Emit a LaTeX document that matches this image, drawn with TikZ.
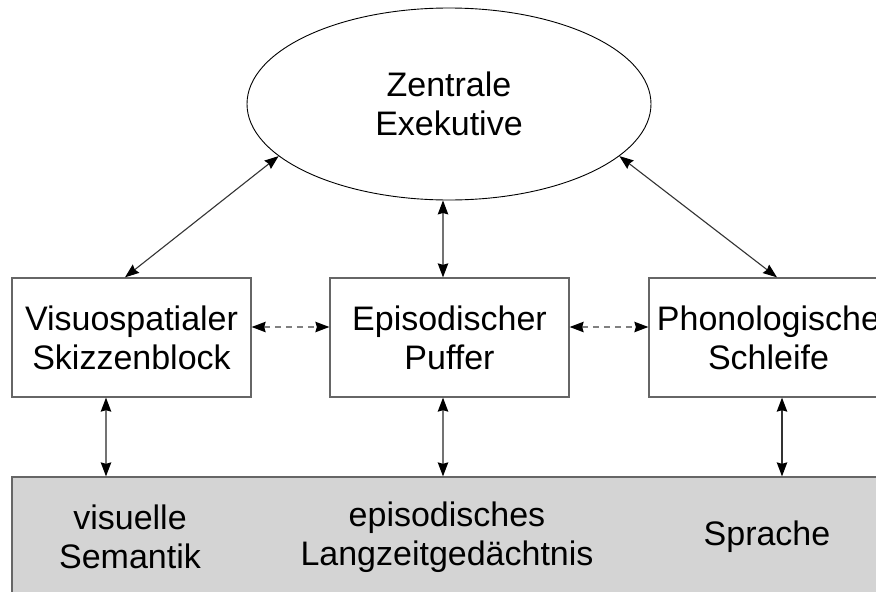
\documentclass[tikz,border=0pt]{standalone}
\usepackage{fontspec}
\setmainfont{Liberation Sans}
\usetikzlibrary{shapes.geometric,arrows.meta}
\begin{document}
\begin{tikzpicture}[x=1pt,y=-1pt,
  txt/.style={font=\fontsize{34}{39}\selectfont, align=center},
  modbox/.style={draw=black!60, line width=1.3pt, fill=white, minimum width=239pt, minimum height=119pt, inner sep=0pt},
  tip/.style={Stealth[length=14pt,width=10.5pt,inset=1.5pt,color=black]},
  link/.style={draw=black!55, line width=1.1pt, {Stealth[length=14pt,width=10.5pt,inset=1.5pt,color=black]}-{Stealth[length=14pt,width=10.5pt,inset=1.5pt,color=black]}},
  dlink/.style={link, draw=black!50, dash pattern=on 6pt off 5pt}]
  \useasboundingbox (0,0) rectangle (876,592);
  \clip (0,0) rectangle (876,592);
  \fill[white] (0,0) rectangle (876,592);

  % long-term memory layer
  \node[draw=black!60, line width=1.3pt, fill=black!17, minimum width=888pt, minimum height=150pt, inner sep=0pt] (mem) at (456,552) {};
  \node[txt] (vs) at (130,537) {visuelle\\Semantik};
  \node[txt] (ep) at (447,537) {episodisches\\Langzeitgedächtnis};
  \node[txt] (sp) at (767,537) {Sprache};

  % central executive
  \node[draw=black, line width=0.9pt, ellipse, minimum width=404pt, minimum height=192pt, inner sep=0pt, txt] (ce) at (449,104) {Zentrale\\Exekutive};

  % slave systems
  \node[modbox, txt] (vis) at (131.5,337.5) {Visuospatialer\\Skizzenblock};
  \node[modbox, txt] (epb) at (449.5,337.5) {Episodischer\\Puffer};
  \node[modbox, txt] (pho) at (768.5,337.5) {Phonologische\\Schleife};

  % helper positions
  \coordinate (ly) at (0,327);
  \coordinate (lx) at (106,0);
  \coordinate (cx) at (443,0);
  \coordinate (rx) at (782,0);
  \coordinate (dl) at (125,0);
  \coordinate (dr) at (777,0);

  % executive links
  \draw[link, draw=black!80] (vis.north -| dl) -- (ce.197);
  \draw[link, draw=black!80] (pho.north -| dr) -- (ce.343);
  \draw[link] (ce.south -| cx) -- (epb.north -| cx);

  % links between slave systems
  \draw[dlink] (vis.east |- ly) -- (epb.west |- ly);
  \draw[dlink] (epb.east |- ly) -- (pho.west |- ly);

  % links to long-term memory
  \draw[link] (vis.south -| lx) -- (mem.north -| lx);
  \draw[link] (epb.south -| cx) -- (mem.north -| cx);
  \draw[link, draw=black!80] (pho.south -| rx) -- (mem.north -| rx);
\end{tikzpicture}
\end{document}
